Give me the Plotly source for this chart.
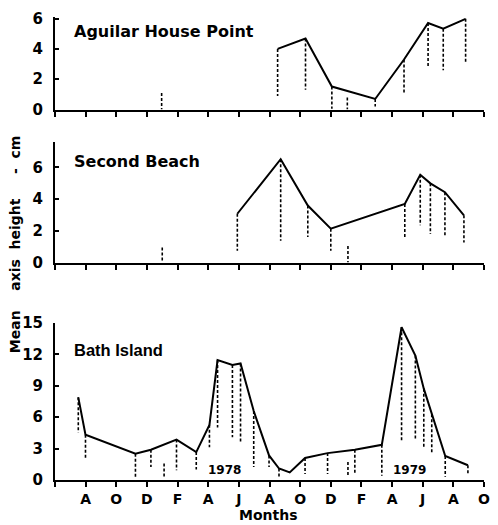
import plotly.graph_objects as go

# ---- Data (x = months since 1 June 1977) ----
# Aguilar House Point
ahp_month = [14.53, 16.35, 18.07, 20.9, 22.78, 24.35, 25.34, 26.8]
ahp_mean = [4.0, 4.68, 1.52, 0.7, 3.3, 5.7, 5.33, 5.98]
ahp_low = [0.9, 1.3, 0.05, 0.2, 1.1, 2.8, 2.6, 3.1]
ahp_only_month = [6.96, 19.08]
ahp_only_high = [1.1, 0.8]
ahp_only_low = [0.0, 0.0]

# Second Beach
sb_month = [11.9, 14.73, 16.5, 18.0, 22.83, 23.84, 24.5, 25.45, 26.69]
sb_mean = [3.08, 6.52, 3.6, 2.14, 3.7, 5.54, 5.0, 4.44, 2.98]
sb_low = [0.75, 1.37, 1.62, 0.75, 1.62, 2.35, 1.8, 1.62, 1.27]
sb_only_month = [7.0, 19.12]
sb_only_high = [0.95, 1.04]
sb_only_low = [0.0, 0.0]

# Bath Island
bi_month = [1.52, 1.99, 5.25, 6.26, 7.93, 9.22, 10.08, 10.61, 11.58, 12.11,
            12.97, 13.97, 14.62, 15.32, 16.32, 17.79, 19.57, 21.33, 22.62,
            23.52, 24.07, 24.59, 25.47, 26.95]
bi_mean = [7.9, 4.33, 2.51, 2.89, 3.86, 2.67, 5.27, 11.46, 10.99, 11.14,
           6.59, 2.35, 1.1, 0.73, 2.1, 2.57, 2.89, 3.36, 14.6,
           11.9, 8.73, 6.28, 2.29, 1.41]
bi_low = [4.55, 2.0, 0.3, 1.25, 0.94, 1.0, 3.14, 5.02, 4.08, 3.6,
          1.25, 1.25, 0.3, None, 0.57, 0.57, 0.57, 0.4, 3.77,
          3.77, 3.14, 2.5, 0.3, 0.57]
bi_only_month = [7.12, 19.12]
bi_only_high = [1.57, 1.73]
bi_only_low = [0.3, 0.3]

tick_months = [0, 2, 4, 6, 8, 10, 12, 14, 16, 18, 20, 22, 24, 26, 28]
tick_labels = ["", "A", "O", "D", "F", "A", "J", "A", "O", "D", "F", "A", "J", "A", "O"]

year_labels = ["1978", "1979"]
year_months = [11.04, 23.15]
year_y = [0.94, 0.94]

panel_titles = ["Aguilar House Point", "Second Beach", "Bath Island"]

DJ = "DejaVu Sans, Arial, sans-serif"
LIB = "Liberation Sans, Arial, Helvetica, sans-serif"

fig = go.Figure()


def seg(xs, y1, y2):
    X, Y = [], []
    for x, a, b in zip(xs, y1, y2):
        if a is None or b is None:
            continue
        X += [x, x, None]
        Y += [a, b, None]
    return X, Y


panels = [
    (ahp_month, ahp_mean, ahp_low, ahp_only_month, ahp_only_high, ahp_only_low, "x3", "y3"),
    (sb_month, sb_mean, sb_low, sb_only_month, sb_only_high, sb_only_low, "x2", "y2"),
    (bi_month, bi_mean, bi_low, bi_only_month, bi_only_high, bi_only_low, "x", "y"),
]

for m, mean, low, om, oh, ol, xa, ya in panels:
    dx, dy = seg(m, mean, low)
    ox, oy = seg(om, oh, ol)
    fig.add_trace(go.Scatter(x=dx + ox, y=dy + oy, mode="lines",
                             line=dict(color="black", width=1.6, dash="3px,2px"),
                             xaxis=xa, yaxis=ya, showlegend=False, hoverinfo="skip"))
    fig.add_trace(go.Scatter(x=m, y=mean, mode="lines",
                             line=dict(color="black", width=2),
                             xaxis=xa, yaxis=ya, showlegend=False))

ytickfont = dict(family=DJ, size=15, color="black", weight="bold")
xtickfont = dict(family=DJ, size=14, color="black", weight="bold")
xcommon = dict(range=[0, 28], showgrid=False, zeroline=False, showline=True,
               linecolor="black", linewidth=2, ticks="outside", ticklen=5,
               tickwidth=1.5, tickcolor="black", tickvals=tick_months,
               tickfont=xtickfont)
ycommon = dict(showgrid=False, zeroline=False, showline=True, linecolor="black",
               linewidth=2, ticks="inside", ticklen=4, tickwidth=1.5,
               tickcolor="black", ticklabelstandoff=7, tickfont=ytickfont)

fig.update_layout(
    width=498, height=525,
    margin=dict(l=55, r=8, t=10, b=45),
    paper_bgcolor="white", plot_bgcolor="white",
    xaxis=dict(**xcommon, anchor="y", ticktext=tick_labels),
    yaxis=dict(**ycommon, domain=[0, 0.339], range=[0, 15], tickvals=[0, 3, 6, 9, 12, 15], anchor="x"),
    xaxis2=dict(**xcommon, anchor="y2", showticklabels=False),
    yaxis2=dict(**ycommon, domain=[0.4696, 0.7298], range=[0, 7.6], tickvals=[0, 2, 4, 6], anchor="x2"),
    xaxis3=dict(**xcommon, anchor="y3", showticklabels=False),
    yaxis3=dict(**ycommon, domain=[0.8, 1.0], range=[0, 6.1], tickvals=[0, 2, 4, 6], anchor="x3"),
)

title_y = [0.968, 0.688, 0.281]
title_fonts = [dict(family=DJ, size=16), dict(family=DJ, size=16), dict(family=LIB, size=16.5)]
for t, yy, tf in zip(panel_titles, title_y, title_fonts):
    fig.add_annotation(text=t, xref="paper", yref="paper", x=0.039, y=yy,
                       xanchor="left", yanchor="middle", showarrow=False,
                       font=dict(color="black", weight="bold", **tf))

for t, xm, yv in zip(year_labels, year_months, year_y):
    fig.add_annotation(text=t, xref="x", yref="y", x=xm, y=yv, showarrow=False,
                       xanchor="center", yanchor="middle",
                       font=dict(family=DJ, size=12, color="black", weight="bold"))

fig.add_annotation(text="Months", xref="paper", yref="paper", x=(271 - 55) / 435,
                   y=-(516 - 480) / 470, xanchor="center", yanchor="middle",
                   showarrow=False,
                   font=dict(family=DJ, size=14, color="black", weight="bold"))

fig.add_annotation(text="Mean\u00a0\u00a0\u00a0\u00a0axis\u00a0\u00a0height\u00a0\u00a0\u00a0\u00a0\u00a0-\u00a0\u00a0cm",
                   xref="paper", yref="paper", x=(14 - 55) / 435,
                   y=(480 - 241) / 470, xanchor="center", yanchor="middle",
                   textangle=-90, showarrow=False,
                   font=dict(family=DJ, size=14, color="black", weight="bold"))

fig.write_html("out.html", config={"displayModeBar": False},
               post_script="document.body.style.margin='0';document.body.style.overflow='hidden';")
